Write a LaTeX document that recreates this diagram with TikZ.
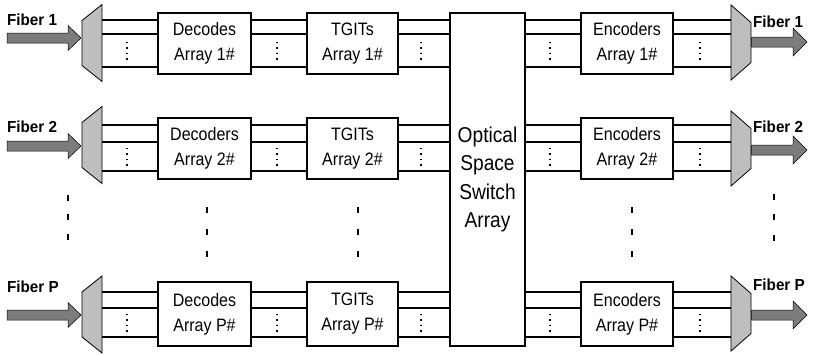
\documentclass[tikz,border=0pt]{standalone}
\usepackage{fontspec}
\setmainfont{Liberation Sans}
\newfontfamily\boxfont[FakeStretch=0.89]{Liberation Sans}
\newfontfamily\labfont[FakeStretch=0.95]{Liberation Sans}
\definecolor{trapgray}{HTML}{BEBEBE}
\definecolor{arrowgray}{HTML}{7C7C7C}
\begin{document}
\begin{tikzpicture}[x=1pt,y=-1pt,
 ln/.style={line width=1.3pt},
 box/.style={draw, line width=1.1pt, fill=white, align=center, inner sep=0pt, font=\boxfont\fontsize{18}{25}\selectfont},
 dotline/.style={line width=1.1pt, dash pattern=on 1.6pt off 4pt},
 trap/.style={draw, line width=0.8pt, fill=trapgray},
 fibarrow/.style={draw=black, line width=0.5pt, fill=arrowgray},
 flabel/.style={font=\labfont\fontsize{16}{18}\selectfont\bfseries, inner sep=0pt, anchor=base west},
]
\useasboundingbox (0,0) rectangle (814,354);

\node[box, minimum width=75pt, minimum height=333pt, font=\boxfont\fontsize{21.5}{28.5}\selectfont] (sw) at (487.5,179.5) {Optical\\Space\\Switch\\Array};

\foreach \r/\bt/\bb/\la/\lb/\lc/\dc/\mc/\al/\ar/\ylt/\yrt/\dtxt in
 {1/13/74/20/34/67/43/42.5/38/42/25/27/Decodes,
  2/118/179/125/142/171/145/148.5/146/150/132/132/Decoders,
  P/282/346/292/308/337/314.5/313.5/315/315/292/290/Decodes}
{
 \node[box, minimum width=93pt, minimum height={(\bb-\bt)*1pt}] (dec\r) at (204.5,{(\bt+\bb)/2}) {\dtxt\\Array \r\#};
 \node[box, minimum width=91pt, minimum height={(\bb-\bt)*1pt}] (tg\r) at (352.5,{(\bt+\bb)/2}) {TGITs\\Array \r\#};
 \node[box, minimum width=92pt, minimum height={(\bb-\bt)*1pt}] (enc\r) at (627,{(\bt+\bb)/2}) {Encoders\\Array \r\#};
 \coordinate (dmx\r) at (102,\dc);
 \coordinate (mux\r) at (731,\mc);
 % connectors
 \foreach \yy in {\la,\lb,\lc} {
  \draw[ln] (dmx\r |- 0,\yy) -- (dec\r.west |- 0,\yy);
  \draw[ln] (dec\r.east |- 0,\yy) -- (tg\r.west |- 0,\yy);
  \draw[ln] (tg\r.east |- 0,\yy) -- (sw.west |- 0,\yy);
  \draw[ln] (sw.east |- 0,\yy) -- (enc\r.west |- 0,\yy);
  \draw[ln] (enc\r.east |- 0,\yy) -- (mux\r |- 0,\yy);
 }
 % vertical dotted lines between channels
 \foreach \xx in {127,277,421,550,700} {
  \draw[dotline] ({\xx},{(\lb+\lc)/2-9}) -- ({\xx},{(\lb+\lc)/2+10});
 }
 % demultiplexer and multiplexer
 \draw[trap] ({82},{\dc-22.5}) -- ({102},{\dc-38.5}) -- ({102},{\dc+38.5}) -- ({82},{\dc+22.5}) -- cycle;
 \draw[trap] ({731},{\mc-37.5}) -- ({751},{\mc-20}) -- ({751},{\mc+20}) -- ({731},{\mc+37.5}) -- cycle;
 % fiber arrows
 \draw[fibarrow] ({7},{\al-5}) -- ({68},{\al-5}) -- ({68},{\al-12.5}) -- ({81},{\al}) -- ({68},{\al+12.5}) -- ({68},{\al+5}) -- ({7},{\al+5}) -- cycle;
 \draw[fibarrow] ({751.5},{\ar-5}) -- ({793},{\ar-5}) -- ({793},{\ar-14}) -- ({807},{\ar}) -- ({793},{\ar+14}) -- ({793},{\ar+5}) -- ({751.5},{\ar+5}) -- cycle;
 \node[flabel] (fl\r) at (7,\ylt) {Fiber \r};
 \node[flabel] (fr\r) at (753,\yrt) {Fiber \r};
}

% vertical ellipses between row 2 and row P
\foreach \xx/\ya/\yb/\yc in {68/198/217/237, 207/210/232/254, 358/210/232/254, 632/210/232/254, 774/197/217/238} {
 \foreach \yy in {\ya,\yb,\yc} {
  \fill ({\xx-1.3},{\yy-2.6}) rectangle ({\xx+1.3},{\yy+2.6});
 }
}
\end{tikzpicture}
\end{document}
